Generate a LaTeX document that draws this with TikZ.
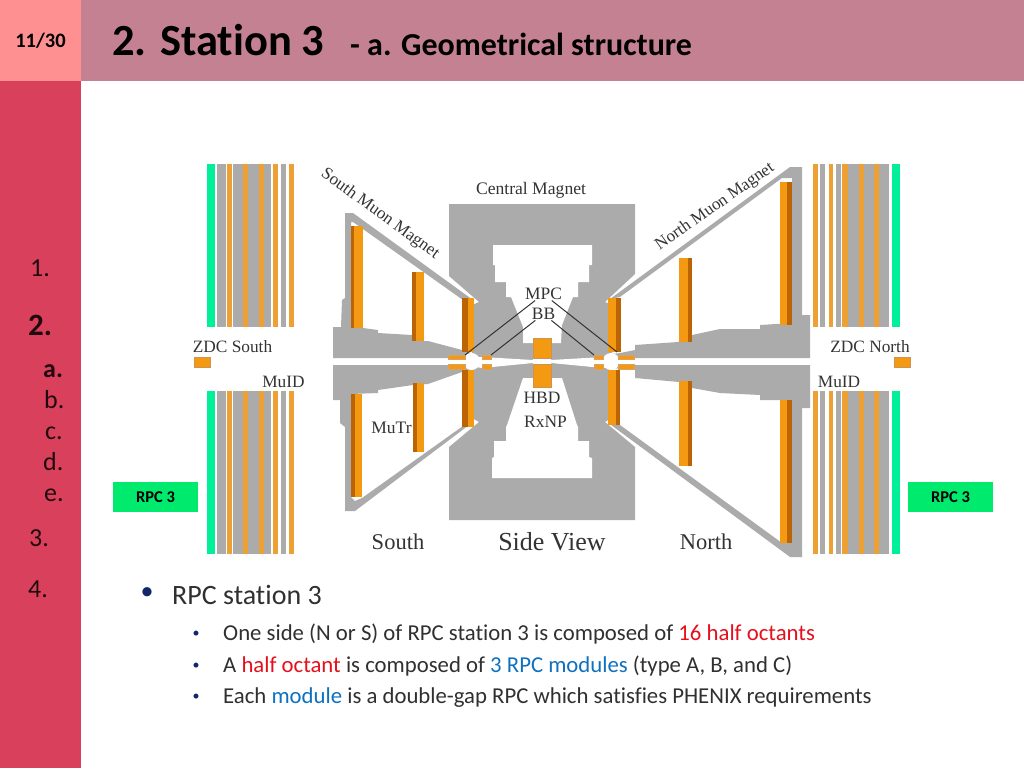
\documentclass[tikz,border=0pt]{standalone}
\usepackage{fontspec}
\setmainfont{Carlito}[Ligatures=CommonOff]
\newfontfamily\figfont{Liberation Serif}
\definecolor{pagepink}{HTML}{FF9092}
\definecolor{titlerose}{HTML}{C48192}
\definecolor{siderose}{HTML}{D9405C}
\definecolor{magnetgray}{HTML}{ABABAB}
\definecolor{barorange}{HTML}{F39A12}
\definecolor{bardark}{HTML}{BC6404}
\definecolor{muidorange}{HTML}{EDA033}
\definecolor{muidgreen}{HTML}{00F09A}
\definecolor{rpcgreen}{HTML}{00EB6E}
\definecolor{figtext}{HTML}{333333}
\definecolor{bodytext}{HTML}{303030}
\definecolor{octantred}{HTML}{E5101C}
\definecolor{moduleblue}{HTML}{0E70BE}
\definecolor{bulletnavy}{HTML}{10286A}
\newcommand{\sizepx}[1]{\fontsize{#1}{#1}\selectfont}
\tikzset{
	figlabel/.style={inner sep=0.5pt,text=figtext,font=\figfont\sizepx{#1}},
	sidelabel/.style={anchor=base west,inner sep=0pt,text=black!85!siderose,font=\sizepx{#1}},
	bodyline/.style={anchor=base west,inner sep=0pt,text=bodytext,font=\sizepx{#1}},
	rpcbox/.style={fill=rpcgreen,minimum width=85pt,minimum height=30pt,inner sep=0pt,font=\bfseries\sizepx{16.5}},
	zdcbox/.style={fill=barorange,draw=bardark!70,line width=0.6pt,minimum width=16pt,minimum height=10pt,inner sep=0pt},
	pointer/.style={draw=figtext,line width=1pt}
}
\begin{document}
\begin{tikzpicture}[x=1pt,y=-1pt]
	\useasboundingbox (0,0) rectangle (1024,768);
	% slide frame
	\fill [titlerose] (81,0) rectangle (1024,81);
	\fill [pagepink] (0,0) rectangle (81,81);
	\fill [siderose] (0,81) rectangle (81,768);
	\node (pagenum) [font=\bfseries\sizepx{20.5},inner sep=0pt] at (40.5,40.5) {11/30};
	\node (title) [anchor=base west,inner sep=0pt,font=\bfseries\sizepx{44.5}] at (112,56) {2. Station 3};
	\node (subtitle) [anchor=base west,inner sep=0pt,font=\bfseries\sizepx{32}] at (350,56) {- a. Geometrical structure};
	% side menu
	\foreach \tag/\xpos/\ypos/\lab in {one/30/276/1., sb/44/408/b., sc/45/439/c., sd/43/470/d., se/44/501/e., three/29/546/3., four/28/597/4.}
		\node (menu\tag) [sidelabel=26] at (\xpos,\ypos) {\lab};
	\node (menutwo) [sidelabel=31] at (28,335) {\bfseries 2.};
	\node (menusa) [sidelabel=26] at (43,377) {\bfseries a.};
	% MuID planes
	\foreach \xa/\xb in {217/226,233/243,248/259,264/271,281/286,820/825,836/841,848/859,864/874,879/889} {
		\fill [magnetgray] (\xa,164) rectangle (\xb,327);
		\fill [magnetgray] (\xa,391) rectangle (\xb,554);
	}
	\foreach \xa/\xb in {227/232,243/248,259/264,273/278,289/294,813/818,829/833,842/848,859/864,874/879} {
		\fill [muidorange] (\xa,164) rectangle (\xb,327);
		\fill [muidorange] (\xa,391) rectangle (\xb,554);
	}
	\foreach \xa/\xb in {207/215,892/900} {
		\fill [muidgreen] (\xa,164) rectangle (\xb,327);
		\fill [muidgreen] (\xa,391) rectangle (\xb,554);
	}
	% central magnet
	\fill [magnetgray] (449,204) -- (635,204) -- (635,274) -- (605,302) -- (612,305) -- (612,418) -- (605,422) -- (635,447) -- (635,520) -- (449,520) -- (449,447) -- (479,422) -- (472,418) -- (472,305) -- (479,302) -- (449,276) -- cycle;
	\fill [white] (493,245) -- (592,245) -- (592,265) -- (589,265) -- (589,282) -- (578,282) -- (578,297) -- (573,297) -- (562,325) -- (561,343) -- (523,343) -- (523,327) -- (511,297) -- (506,297) -- (506,282) -- (495,282) -- (495,265) -- (493,265) -- cycle;
	\fill [white] (523,378) -- (562,378) -- (577,425) -- (578,427) -- (578,441) -- (589,441) -- (589,457) -- (592,458) -- (592,478) -- (492,478) -- (492,458) -- (494,457) -- (494,441) -- (506,441) -- (506,427) -- (507,425) -- cycle;
	% south muon magnet
	\fill [magnetgray] (345,213) -- (353,213) -- (473,300) -- (463,300) -- (353,222) -- (351,222) -- (351,328) -- (363,328) -- (378,330) -- (378,333) -- (412,335) -- (412,341) -- (428,341) -- (462,350) -- (474,354) -- (474,358) -- (333,358) -- (333,327) -- (341,327) -- (342,300) -- (345,298) -- cycle;
	\fill [magnetgray] (333,365) -- (474,365) -- (474,370) -- (462,372) -- (428,384) -- (413,385) -- (378,390) -- (378,393) -- (351,394) -- (351,497) -- (355,501) -- (362,498) -- (463,426) -- (473,422) -- (355,511) -- (345,511) -- (345,427) -- (340,423) -- (340,400) -- (333,400) -- cycle;
	% north muon magnet
	\fill [magnetgray] (790,167) -- (802,167) -- (802,315) -- (810,315) -- (810,358) -- (612,358) -- (612,354) -- (620,353) -- (635,350) -- (635,345) -- (678,342) -- (692,335) -- (720,329) -- (760,329) -- (760,325) -- (792,323) -- (792,178) -- (782,178) -- (620,297) -- (610,299) -- cycle;
	\fill [magnetgray] (612,365) -- (810,365) -- (810,408) -- (802,408) -- (802,557) -- (790,557) -- (607,422) -- (620,425) -- (782,543) -- (792,543) -- (792,400) -- (760,400) -- (760,395) -- (720,393) -- (692,388) -- (692,382) -- (679,382) -- (635,378) -- (635,370) -- (612,368) -- cycle;
	% beam gap
	\fill [white] (465,358) -- (482,357) -- (533,360) -- (533,358) -- (551,358) -- (551,360) -- (603,357) -- (619,358) -- (619,365) -- (603,368) -- (551,363) -- (551,364) -- (533,364) -- (533,363) -- (482,368) -- (465,365) -- cycle;
	\fill [white] (471.5,361.5) circle [radius=8.5];
	\fill [white] (611,361.5) circle [radius=8.5];
	% muon tracker stations: left, right, edge of the dark side, top, bottom
	\foreach \xa/\xb/\xd/\ya/\yb in {351/363/354/226/328,412/424/416/272/341,462/474/468/298/352,351/362/355/394/497,413/424/417/383/452,462/474/468/370/427} {
		\fill [barorange] (\xa,\ya) rectangle (\xb,\yb);
		\fill [bardark] (\xa,\ya) rectangle (\xd,\yb);
	}
	\foreach \xa/\xb/\xd/\ya/\yb in {780/792/787/182/325,679/692/688/258/342,608/621/616/298/352,780/792/787/400/543,679/692/688/381/466,608/620/616/370/425} {
		\fill [barorange] (\xa,\ya) rectangle (\xb,\yb);
		\fill [bardark] (\xd,\ya) rectangle (\xb,\yb);
	}
	% small pieces round the beam
	\foreach \xa/\xb in {448/465,482/491,594/603,618/634} {
		\fill [barorange,draw=bardark!60,line width=0.4pt] (\xa,355) rectangle (\xb,359);
		\fill [barorange,draw=bardark!60,line width=0.4pt] (\xa,364) rectangle (\xb,369);
	}
	\fill [barorange,draw=bardark!70,line width=0.6pt] (533,338) rectangle (551,358);
	\fill [barorange,draw=bardark!70,line width=0.6pt] (533,364) rectangle (551,387);
	% labels of the figure
	\node (central) [figlabel=17.6] at (531,190) {Central Magnet};
	\node (southmag) [figlabel=17.1,rotate=-36] at (380,214) {South Muon Magnet};
	\node (northmag) [figlabel=17,rotate=35] at (715,207) {North Muon Magnet};
	\node (zdcsouth) [figlabel=17.3] at (232.5,347) {ZDC South};
	\node (zdcnorth) [figlabel=17.3] at (870,347) {ZDC North};
	\node (zdcboxS) [zdcbox] at (202,362) {};
	\node (zdcboxN) [zdcbox] at (902,362) {};
	\node (muidS) [figlabel=17.3] at (283.5,382) {MuID};
	\node (muidN) [figlabel=17.3] at (839,382) {MuID};
	\node (mutr) [figlabel=17.5] at (391.5,428) {MuTr};
	\node (mpc) [figlabel=17.4] at (543.5,294) {MPC};
	\node (bb) [below of=mpc,node distance=20pt,figlabel=17.4] {BB};
	\node (hbd) [figlabel=17.4] at (542,398) {HBD};
	\node (rxnp) [figlabel=17.4] at (545.5,422) {RxNP};
	\node (south) [figlabel=22.5] at (398,542) {South};
	\node (sideview) [figlabel=26] at (552,542) {Side View};
	\node (north) [figlabel=22.5] at (706,542) {North};
	% pointers
	\coordinate (mpcS) at (465,355);
	\coordinate (mpcN) at (617,352);
	\coordinate (bbS) at (491,355);
	\coordinate (bbN) at (594,355);
	\draw [pointer] (mpc) -- (mpcS);
	\draw [pointer] (mpc) -- (mpcN);
	\draw [pointer] (bb) -- (bbS);
	\draw [pointer] (bb) -- (bbN);
	% RPC 3 tags
	\node (rpcS) [rpcbox] at (155.5,497) {RPC 3};
	\node (rpcN) [rpcbox] at (950.5,497) {RPC 3};
	% text
	\node (bulletmain) [text=bulletnavy,inner sep=0pt,font=\sizepx{26}] at (147,594) {•};
	\node (main) [bodyline=28] at (172,604) {RPC station 3};
	\foreach \tag/\ypos in {a/634,b/666,c/697}
		\node (bullet\tag) [text=bulletnavy,inner sep=0pt,font=\sizepx{14}] at (196,\ypos) {•};
	\node (lineone) [bodyline=22.75] at (223,640) {One side (N or S) of RPC station 3 is composed of \textcolor{octantred}{16 half octants}};
	\node (linetwo) [bodyline=22.75] at (223,672) {A \textcolor{octantred}{half octant} is composed of \textcolor{moduleblue}{3 RPC modules} (type A, B, and C)};
	\node (linethree) [bodyline=22.75] at (223,703) {Each \textcolor{moduleblue}{module} is a double-gap RPC which satisfies PHENIX requirements};
\end{tikzpicture}
\end{document}
